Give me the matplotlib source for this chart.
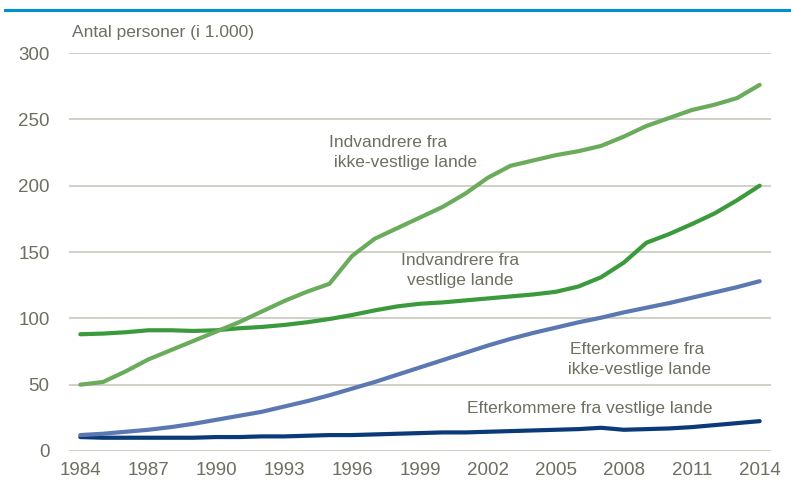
import matplotlib.pyplot as plt

years = list(range(1984, 2015))

# Indvandrere fra ikke-vestlige lande
indv_ikke_vest = [50, 52, 60, 69, 76, 83, 90, 97, 105, 113, 120, 126, 147, 160, 168,
                  176, 184, 194, 206, 215, 219, 223, 226, 230, 237, 245, 251, 257, 261, 266, 276]
# Indvandrere fra vestlige lande
indv_vest = [88, 88.5, 89.5, 91, 91, 90.5, 91, 92.5, 93.5, 95, 97, 99.5, 102.5, 106, 109,
             111, 112, 113.5, 115, 116.5, 118, 120, 124, 131, 142, 157, 163.5, 171, 179, 189, 200]
# Efterkommere fra ikke-vestlige lande
eft_ikke_vest = [12, 13, 14.5, 16, 18, 20.5, 23.5, 26.5, 29.5, 33.5, 37.5, 42, 47, 52, 57.5,
                 63, 68.5, 74, 79.5, 84.5, 89, 93, 97, 100.5, 104.5, 108, 111.5, 115.5, 119.5, 123.5, 128]
# Efterkommere fra vestlige lande
eft_vest = [10.5, 10, 10, 10, 10, 10, 10.5, 10.5, 11, 11, 11.5, 12, 12, 12.5, 13,
            13.5, 14, 14, 14.5, 15, 15.5, 16, 16.5, 17.5, 16, 16.5, 17, 18, 19.5, 21, 22.5]

x_ticks = list(range(1984, 2015, 3))
y_ticks = [0, 50, 100, 150, 200, 250, 300]

plt.rcParams['font.family'] = ['Liberation Sans', 'DejaVu Sans']
text_col = '#6e6e62'
grid_col = '#c8c8bc'
fs = 12.5

fig = plt.figure(figsize=(7.91, 4.95), dpi=100)
ax = fig.add_axes([0.0872, 0.0889, 0.8875, 0.804])

lw = 3.0
ax.plot(years, eft_vest, color='#0b3a78', lw=lw, solid_capstyle='round', zorder=3)
ax.plot(years, eft_ikke_vest, color='#5b78b3', lw=lw, solid_capstyle='round', zorder=3)
ax.plot(years, indv_vest, color='#3a9a3c', lw=lw, solid_capstyle='round', zorder=3)
ax.plot(years, indv_ikke_vest, color='#6aab5c', lw=lw, solid_capstyle='round', zorder=3)

ax.set_xlim(1983.5, 2014.5)
ax.set_ylim(0, 300)
ax.set_xticks(x_ticks)
ax.set_yticks(y_ticks)
ax.tick_params(length=0, labelsize=13.5, labelcolor=text_col)
ax.tick_params(axis='y', pad=14)
ax.tick_params(axis='x', pad=8)
ax.grid(axis='y', color=grid_col, lw=1.2, zorder=1)
for s in ax.spines.values():
    s.set_visible(False)

# top blue rule
fig.add_artist(plt.Line2D([0.006, 1.0], [0.98, 0.98], color='#0090d0', lw=2.2,
                          transform=fig.transFigure))

fig.text(72 / 791, 1 - 33 / 495, 'Antal personer (i 1.000)', fontsize=fs,
         color=text_col, ha='left', va='center')

ax.text(1994.98, 225, 'Indvandrere fra\n ikke-vestlige lande', fontsize=fs, color=text_col,
        ha='left', va='center', linespacing=1.35)
ax.text(2000.76, 136, 'Indvandrere fra\nvestlige lande', fontsize=fs, color=text_col,
        ha='center', va='center', linespacing=1.35)
ax.text(2008.6, 69, 'Efterkommere fra\n ikke-vestlige lande', fontsize=fs, color=text_col,
        ha='center', va='center', linespacing=1.35)
ax.text(2006.5, 32.4, 'Efterkommere fra vestlige lande', fontsize=fs, color=text_col,
        ha='center', va='center')

fig.savefig('out.png', dpi=100)
